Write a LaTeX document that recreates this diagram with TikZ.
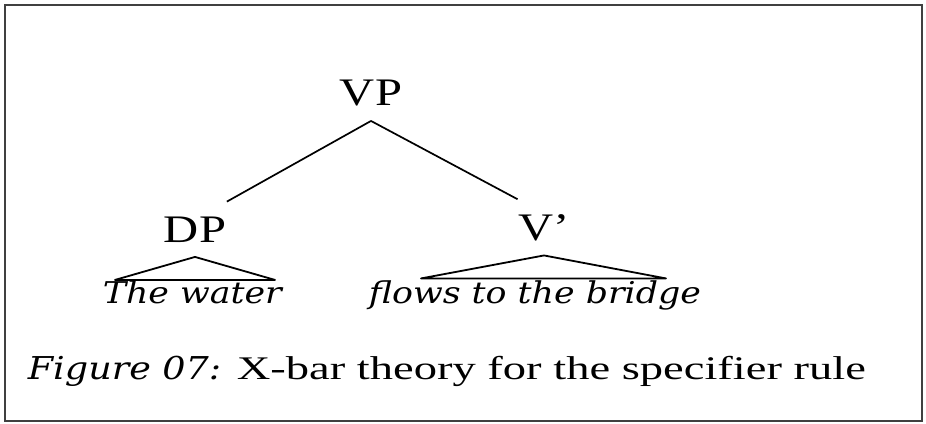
\documentclass[tikz,border=0pt]{standalone}
\usepackage{fontspec}
\usepackage{tikz}
\usetikzlibrary{positioning, calc}
\newfontfamily\treefont{Liberation Serif}[FakeStretch=1.245]
\newfontfamily\capfont{Liberation Serif}[FakeStretch=1.41]
\newfontfamily\wordfont{DejaVu Serif}[FakeStretch=1.16]

\begin{document}
\begin{tikzpicture}[x=1pt, y=-1pt, line width=1.7pt,
    cat/.style={font=\treefont\fontsize{39}{39}\selectfont, inner xsep=0pt, inner ysep=14pt, anchor=base},
    words/.style={font=\wordfont\itshape\fontsize{30}{30}\selectfont, inner sep=0pt, anchor=base west},
    roof/.style={line width=1.8pt, line join=round}]
    \useasboundingbox (0,0) rectangle (926,423);
    \draw[line width=2.5pt, black!75] (5,5) rectangle (922,421);

    % tree
    \node[cat] (vp) at (371,105.5) {VP};
    \node[cat] (dp) at (195,242) {DP};
    \node[cat] (vbar) at (544,240) {V\textquoteright};

    \draw (vp.south) -- (dp.north east);
    \draw (vp.south) -- (vbar.north west);

    % roofs over the phrases
    \draw[roof] (dp.south) -- ++(-80,23) -- ++(160,0) -- cycle;
    \draw[roof] (vbar.south) -- ++(-123,23) -- ++(245,0) -- cycle;

    \node[words] (water) at (102,303) {The water};
    \node[words] (flows) at (368,303) {flows to the bridge};

    \node[font=\capfont\fontsize{33}{33}\selectfont, inner sep=0pt, anchor=base west] (caption) at (27,379)
        {{\wordfont\itshape\fontsize{31.5}{31.5}\selectfont Figure 07:} X-bar theory for the specifier rule};
\end{tikzpicture}
\end{document}
